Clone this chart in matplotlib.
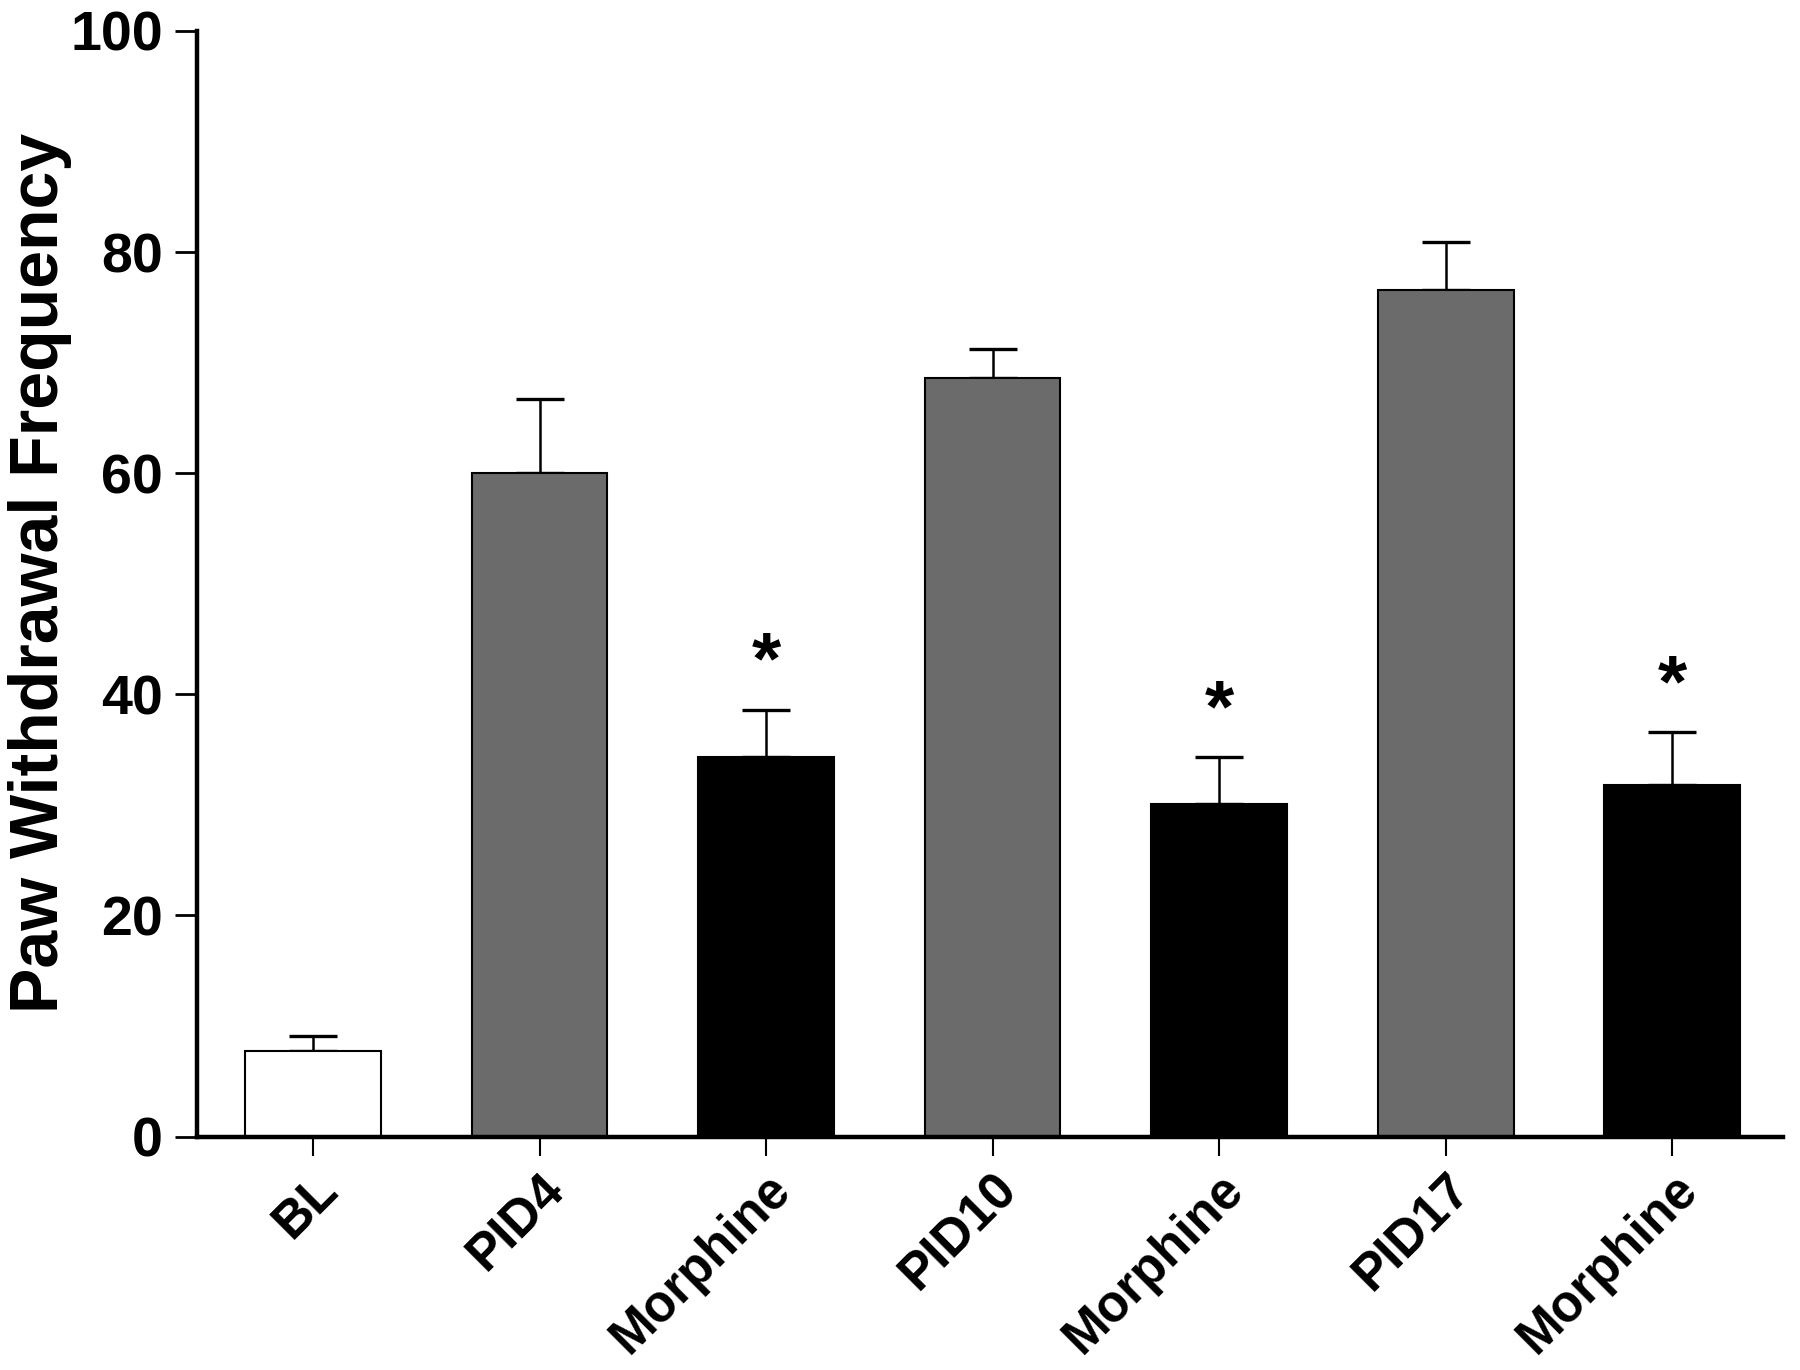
import matplotlib.pyplot as plt

plt.rcParams['font.family'] = ['Liberation Sans', 'DejaVu Sans']
plt.rcParams['font.weight'] = 'bold'

categories = ['BL', 'PID4', 'Morphine', 'PID10', 'Morphine', 'PID17', 'Morphine']
means = [7.7, 60.0, 34.3, 68.6, 30.1, 76.6, 31.8]
errors = [1.4, 6.7, 4.3, 2.6, 4.2, 4.3, 4.8]
colors = ['white', '#6b6b6b', 'black', '#6b6b6b', 'black', '#6b6b6b', 'black']
significant = [False, False, True, False, True, False, True]

fig = plt.figure(figsize=(18, 13.7), dpi=100)
ax = fig.add_axes([0.1097, 0.1704, 0.8809, 0.807])

x = list(range(len(categories)))
ax.bar(x, means, width=0.6, color=colors, edgecolor='black', linewidth=1.5, zorder=2)
ax.errorbar(x, means, yerr=[[0] * len(errors), errors], fmt='none',
            ecolor='black', elinewidth=1.8, capsize=17, capthick=2.4, zorder=1)

for xi, m, e, s in zip(x, means, errors, significant):
    if s:
        ax.text(xi, m + e + 1.0, '*', ha='center', va='bottom', fontsize=54, fontweight='bold')

ax.set_xlim(-0.51, 6.49)
ax.set_ylim(0, 100)
ax.set_yticks([0, 20, 40, 60, 80, 100])
ax.set_xticks(x)
ax.set_xticklabels(categories, rotation=45, ha='right', va='top', rotation_mode='anchor')
ax.tick_params(axis='y', labelsize=40, length=16, width=2, pad=9)
ax.tick_params(axis='x', labelsize=37, length=14, width=1.5, pad=6)
for lab in ax.get_xticklabels():
    lab.set_fontweight('bold')
for lab in ax.get_yticklabels():
    lab.set_fontweight('bold')

ax.set_ylabel('Paw Withdrawal Frequency', fontsize=49, fontweight='bold', va='center')
ax.yaxis.set_label_coords(-0.099, 0.51)

for side in ['top', 'right']:
    ax.spines[side].set_visible(False)
for side in ['left', 'bottom']:
    ax.spines[side].set_linewidth(3.2)

fig.savefig('out.png', dpi=100)
